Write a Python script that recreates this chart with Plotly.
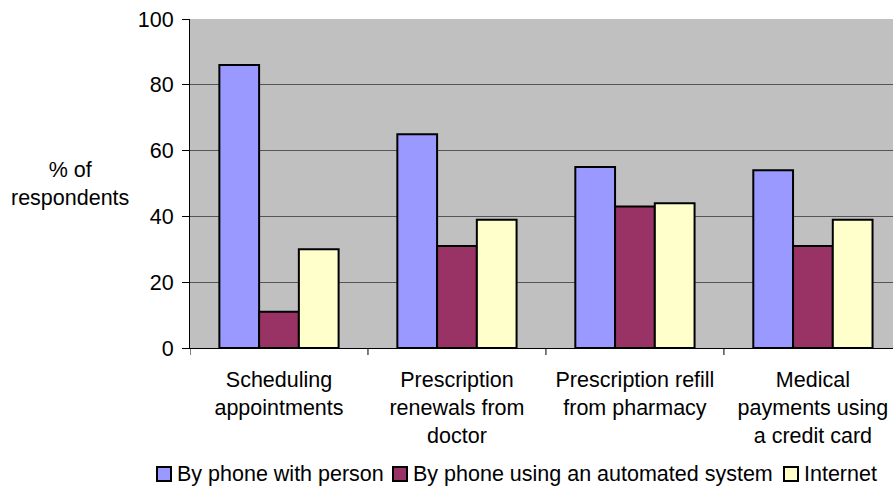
import plotly.graph_objects as go

# Survey: preferred way of handling common medical tasks
categories = [
    "Scheduling<br>appointments",
    "Prescription<br>renewals from<br>doctor",
    "Prescription refill<br>from pharmacy",
    "Medical<br>payments using<br>a credit card",
]
phone_person = [86, 65, 55, 54]
phone_automated = [11, 31, 43, 31]
internet = [30, 39, 44, 39]

series_names = [
    "By phone with person",
    "By phone using an automated system",
    "Internet",
]
series_colors = ["#9999FF", "#993366", "#FFFFCC"]
y_ticks = [0, 20, 40, 60, 80, 100]

FONT = "Liberation Sans, Arial, sans-serif"
FS = 21.5
W, H = 893, 487
ML, MR, MT, MB = 190, 0, 19, 139
PW, PH = W - ML - MR, H - MT - MB


def px_x(px):
    """Convert a horizontal pixel position into paper coordinates."""
    return (px - ML) / PW


def px_y(py):
    """Convert a vertical pixel position (from top) into paper coordinates."""
    return (H - MB - py) / PH


x_pos = list(range(len(categories)))

fig = go.Figure()
for name, vals, col in zip(series_names, [phone_person, phone_automated, internet], series_colors):
    fig.add_trace(go.Bar(
        x=x_pos, y=vals, name=name,
        marker=dict(color=col, line=dict(color="black", width=2)),
        showlegend=False,
    ))

fig.update_layout(
    width=W, height=H,
    margin=dict(l=ML, r=MR, t=MT, b=MB, autoexpand=False),
    paper_bgcolor="white",
    plot_bgcolor="#C0C0C0",
    barmode="group",
    bargap=0.33,
    bargroupgap=0,
    font=dict(family=FONT, size=FS, color="black"),
    showlegend=False,
    xaxis=dict(
        tickmode="array", tickvals=x_pos, ticktext=categories,
        range=[-0.5, 3.45],
        showline=True, linecolor="black", linewidth=1,
        ticks="", showgrid=False, zeroline=False,
        ticklabelstandoff=12,
        automargin=False,
    ),
    yaxis=dict(
        range=[0, 100],
        tickmode="array", tickvals=y_ticks,
        showline=True, linecolor="black", linewidth=1,
        ticks="outside", ticklen=7, tickcolor="black",
        showgrid=True, gridcolor="#555555", gridwidth=1,
        zeroline=False,
        ticklabelstandoff=4,
        automargin=False,
    ),
)

# Category boundary tick marks on the x axis
for b in [-0.5, 0.5, 1.5, 2.5]:
    fig.add_shape(type="line", xref="x", yref="paper",
                  x0=b, x1=b, y0=0, y1=px_y(H - MB + 7),
                  line=dict(color="black", width=1))

# Y axis caption
fig.add_annotation(
    text="% of<br>respondents",
    xref="paper", yref="paper",
    x=px_x(70), y=px_y(184), xanchor="center", yanchor="middle",
    showarrow=False, font=dict(size=FS),
)

# Legend row: swatch + label for each series
legend_swatch_left = [157, 393, 784]
legend_cy = 474
for left, name, col in zip(legend_swatch_left, series_names, series_colors):
    fig.add_shape(type="rect", xref="paper", yref="paper",
                  x0=px_x(left), x1=px_x(left + 14),
                  y0=px_y(legend_cy + 7), y1=px_y(legend_cy - 7),
                  fillcolor=col, line=dict(color="black", width=2))
    fig.add_annotation(
        text=name, xref="paper", yref="paper",
        x=px_x(left + 18), y=px_y(legend_cy),
        xanchor="left", yanchor="middle", showarrow=False,
        font=dict(size=FS),
    )

fig.write_html("out.html")
